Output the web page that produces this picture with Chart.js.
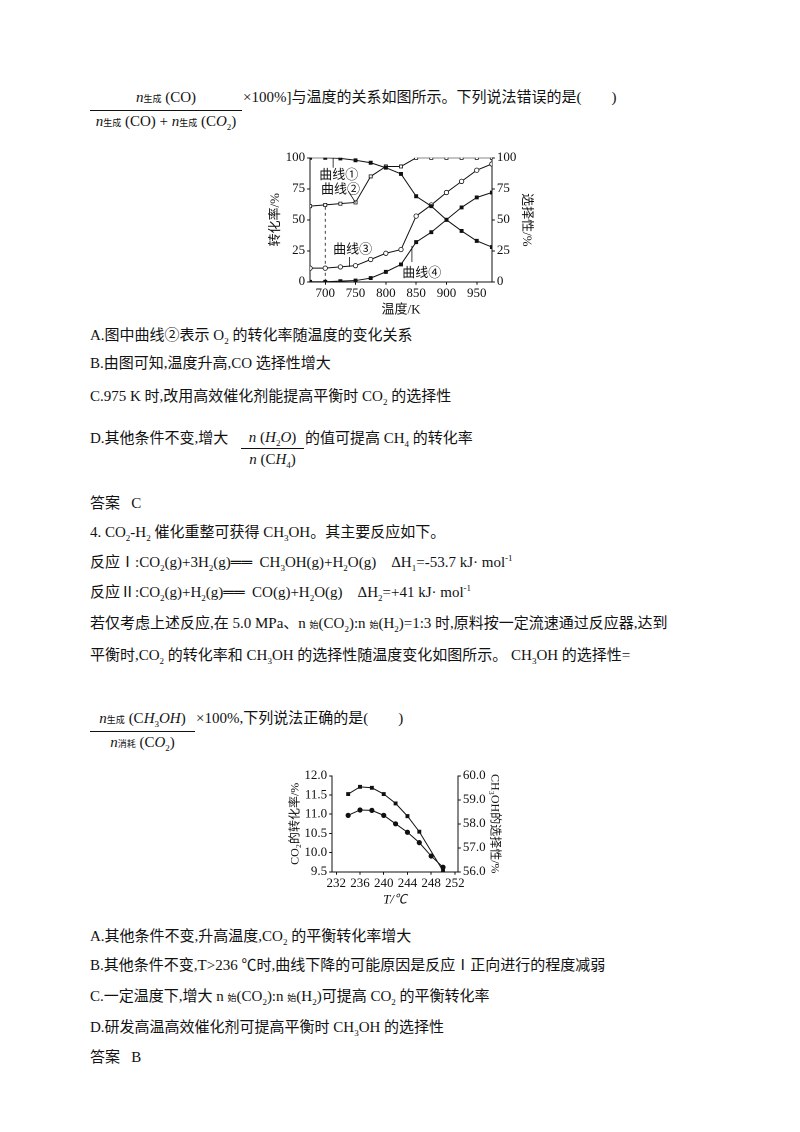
<!DOCTYPE html>
<html><head><meta charset="utf-8">
<script src="https://cdn.jsdelivr.net/npm/chart.js@4"></script>
<style>
body{margin:0;background:#fff;width:800px;height:1132px;position:relative;font-family:"Liberation Serif","Noto Sans CJK SC",serif;color:#111;font-size:15px;}
.t{position:absolute;white-space:nowrap;line-height:20px;}
sub,sup{font-size:9px;line-height:0}
.fr{position:absolute;white-space:nowrap;text-align:center;}
.fr .n{border-bottom:1px solid #111;padding:0 0 1px 0;line-height:20px}
.fr .d{line-height:20px}
i{font-style:italic}
.s{font-size:9px}
canvas{position:absolute}
</style></head><body>
<div class="fr" style="left:90px;top:87px;width:152px"><div class="n"><i>n</i><span class="s">生成</span> (CO)</div><div class="d"><i>n</i><span class="s">生成</span> (CO) + <i>n</i><span class="s">生成</span> (C<i>O</i><sub>2</sub>)</div></div>
<div class="t" style="left:243px;top:87px">×100%]与温度的关系如图所示。下列说法错误的是(&nbsp;&nbsp;&nbsp;&nbsp;&nbsp;&nbsp;&nbsp;&nbsp;)</div>
<canvas id="c1" style="left:268px;top:148px;width:266px;height:170px"></canvas>
<div class="t" style="left:90px;top:325px">A.图中曲线②表示 O<sub>2</sub> 的转化率随温度的变化关系</div>
<div class="t" style="left:90px;top:353px">B.由图可知,温度升高,CO 选择性增大</div>
<div class="t" style="left:90px;top:386px">C.975 K 时,改用高效催化剂能提高平衡时 CO<sub>2</sub> 的选择性</div>
<div class="t" style="left:90px;top:428px">D.其他条件不变,增大</div>
<div class="fr" style="left:241px;top:427px;width:63px"><div class="n"><i>n</i> (<i>H</i><sub>2</sub><i>O</i>)</div><div class="d"><i>n</i> (C<i>H</i><sub>4</sub>)</div></div>
<div class="t" style="left:305px;top:428px">的值可提高 CH<sub>4</sub> 的转化率</div>
<div class="t" style="left:90px;top:493px">答案&nbsp;&nbsp;&nbsp;C</div>
<div class="t" style="left:90px;top:522px">4. CO<sub>2</sub>-H<sub>2</sub> 催化重整可获得 CH<sub>3</sub>OH。其主要反应如下。</div>
<div class="t" style="left:90px;top:552px">反应Ⅰ:CO<sub>2</sub>(g)+3H<sub>2</sub>(g)══&nbsp; CH<sub>3</sub>OH(g)+H<sub>2</sub>O(g)&nbsp;&nbsp;&nbsp; ΔH<sub>1</sub>=-53.7 kJ· mol<sup>-1</sup></div>
<div class="t" style="left:90px;top:582px">反应Ⅱ:CO<sub>2</sub>(g)+H<sub>2</sub>(g)══&nbsp; CO(g)+H<sub>2</sub>O(g)&nbsp;&nbsp;&nbsp; ΔH<sub>2</sub>=+41 kJ· mol<sup>-1</sup></div>
<div class="t" style="left:90px;top:613px">若仅考虑上述反应,在 5.0 MPa、n <span class="s">始</span>(CO<sub>2</sub>):n <span class="s">始</span>(H<sub>2</sub>)=1:3 时,原料按一定流速通过反应器,达到</div>
<div class="t" style="left:90px;top:645px">平衡时,CO<sub>2</sub> 的转化率和 CH<sub>3</sub>OH 的选择性随温度变化如图所示。 CH<sub>3</sub>OH 的选择性=</div>
<div class="fr" style="left:90px;top:708px;width:105px"><div class="n"><i>n</i><span class="s">生成</span> (C<i>H</i><sub>3</sub><i>OH</i>)</div><div class="d"><i>n</i><span class="s">消耗</span> (C<i>O</i><sub>2</sub>)</div></div>
<div class="t" style="left:196px;top:708px">×100%,下列说法正确的是(&nbsp;&nbsp;&nbsp;&nbsp;&nbsp;&nbsp;&nbsp;&nbsp;)</div>
<canvas id="c2" style="left:288px;top:766px;width:214px;height:142px"></canvas>
<div class="t" style="left:90px;top:926px">A.其他条件不变,升高温度,CO<sub>2</sub> 的平衡转化率增大</div>
<div class="t" style="left:90px;top:955px">B.其他条件不变,T&gt;236 ℃时,曲线下降的可能原因是反应Ⅰ正向进行的程度减弱</div>
<div class="t" style="left:90px;top:986px">C.一定温度下,增大 n <span class="s">始</span>(CO<sub>2</sub>):n <span class="s">始</span>(H<sub>2</sub>)可提高 CO<sub>2</sub> 的平衡转化率</div>
<div class="t" style="left:90px;top:1017px">D.研发高温高效催化剂可提高平衡时 CH<sub>3</sub>OH 的选择性</div>
<div class="t" style="left:90px;top:1047px">答案&nbsp;&nbsp;&nbsp;B</div>
<script>
const temps1=[675,700,725,750,775,800,825,850,875,900,925,950,975];
const curve1=[100,100,99.5,98,96,92,87,69,61,50,41,33,28];
const curve2=[61,62,63,64,85,93,93,100,100,100,100,100,100];
const curve3=[11,11,12,13,18,23,26,53,62,72,81,90,95];
const curve4=[0,0,0.5,1,3,8,14,32,40,50,60,68,72];
const ticks1=[700,750,800,850,900,950];
const yticks1=[0,25,50,75,100];
const temps2=[234,236,238,240,242,244,246,250];
const selCH3OH=[59.24,59.54,59.5,59.24,58.85,58.32,57.67,56.04];
const temps2b=[234,236,238,240,242,244,246,248,250];
const convCO2=[10.97,11.11,11.10,10.97,10.75,10.53,10.26,9.91,9.62];
const ticks2=[232,236,240,244,248,252];
const yticksL=[9.5,10.0,10.5,11.0,11.5,12.0];
const yticksR=[56.0,57.0,58.0,59.0,60.0];
const F='"Liberation Serif","Noto Sans CJK SC",serif';
Chart.defaults.animation=false;
Chart.defaults.color='#111';
function pts(xs,ys){return xs.map((x,i)=>({x,y:ys[i]}));}
function ds(d,fill,shape,axis){return {data:d,borderColor:'#111',borderWidth:1,pointRadius:2.2,pointStyle:shape||'rect',pointBackgroundColor:fill?'#111':'#fff',pointBorderColor:'#111',pointBorderWidth:0.8,yAxisID:axis||'y',tension:0};}
function fixTicks(arr){return s=>{s.ticks=arr.map(v=>({value:v}));};}
const grid={drawOnChartArea:false,tickLength:3,color:'#111'};
const border={color:'#111',width:1};
const labels1={id:'l1',afterDatasetsDraw(c){const x=c.scales.x,y=c.scales.y,g=c.ctx;g.save();g.font='13px "Noto Sans CJK SC",serif';g.fillStyle='#111';g.strokeStyle='#111';g.lineWidth=0.8;
const L=(t,tx,ty,px,py,qx,qy)=>{g.fillText(t,x.getPixelForValue(tx),y.getPixelForValue(ty));g.beginPath();g.moveTo(x.getPixelForValue(px),y.getPixelForValue(py));g.lineTo(x.getPixelForValue(qx),y.getPixelForValue(qy));g.stroke();};
g.textBaseline='middle';
L('曲线①',690,87,713,92,713,100);
L('曲线②',693,75,738,73,750,64);
L('曲线③',713,27,740,20,740,12);
L('曲线④',827,8,843,16,843,29);
g.restore();}};
new Chart(document.getElementById('c1'),{type:'line',data:{datasets:[
ds(pts(temps1,curve1),true),ds(pts(temps1,curve2),false),ds(pts(temps1,curve3),false,'circle'),ds(pts(temps1,curve4),true),
{data:[{x:700,y:0},{x:700,y:62}],borderColor:'#111',borderWidth:0.8,borderDash:[3,3],pointRadius:0}]},
options:{responsive:false,devicePixelRatio:2,layout:{padding:{top:6}},plugins:{legend:{display:false},tooltip:{enabled:false}},
scales:{x:{type:'linear',min:675,max:975,afterBuildTicks:fixTicks(ticks1),grid,border,ticks:{font:{family:F,size:13},maxRotation:0,padding:1},title:{display:true,text:'温度/K',font:{family:F,size:13},padding:0}},
y:{min:0,max:100,afterBuildTicks:fixTicks(yticks1),grid,border,ticks:{font:{family:F,size:13},padding:2},title:{display:true,text:'转化率/%',font:{family:F,size:13},padding:0}},
y2:{position:'right',min:0,max:100,afterBuildTicks:fixTicks(yticks1),grid,border,ticks:{font:{family:F,size:13},padding:2},title:{display:true,text:'选择性/%',font:{family:F,size:13},padding:0}}}},plugins:[labels1]});
new Chart(document.getElementById('c2'),{type:'line',data:{datasets:[
ds(pts(temps2,selCH3OH),true,'rect','y2'),ds(pts(temps2b,convCO2),true,'circle','y')]},
options:{responsive:false,devicePixelRatio:2,layout:{padding:{top:6}},plugins:{legend:{display:false},tooltip:{enabled:false}},
scales:{x:{type:'linear',min:231.3,max:252.5,afterBuildTicks:fixTicks(ticks2),grid,border,ticks:{font:{family:F,size:13},maxRotation:0,padding:1},title:{display:true,text:'T/℃',font:{family:F,size:13,style:'italic'},padding:0}},
y:{min:9.5,max:12.0,afterBuildTicks:fixTicks(yticksL),grid,border,ticks:{font:{family:F,size:13},padding:2,callback:v=>v.toFixed(1)},title:{display:true,text:'CO₂的转化率/%',font:{family:F,size:12},padding:0}},
y2:{position:'right',min:56,max:60,afterBuildTicks:fixTicks(yticksR),grid,border,ticks:{font:{family:F,size:13},padding:2,callback:v=>v.toFixed(1)},title:{display:true,text:'CH₃OH的选择性/%',font:{family:F,size:12},padding:0}}}}});
</script>
</body></html>
